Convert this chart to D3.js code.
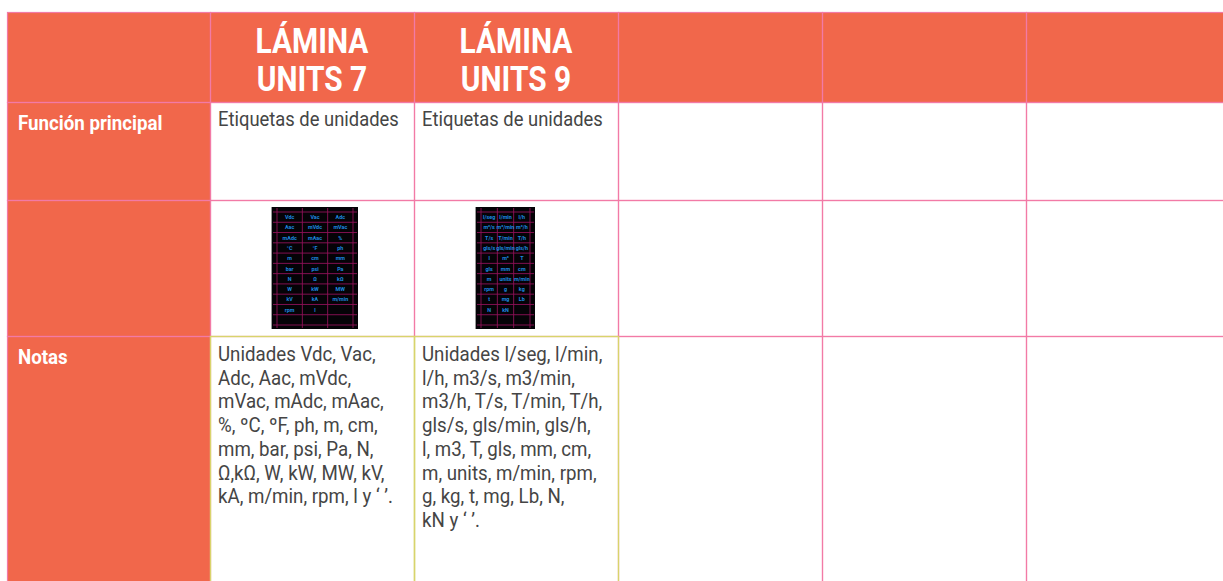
<!DOCTYPE html>
<html>
<head>
<meta charset="utf-8">
<script src="https://cdn.jsdelivr.net/npm/d3@7"></script>
<style>
  html, body { margin: 0; padding: 0; background: #ffffff; }
  svg { display: block; }
  text { font-family: Roboto, "Noto Sans", sans-serif; }
</style>
</head>
<body>
<svg id="chart" width="1223" height="581"></svg>
<script>
// ---- data ----
const columnHeaders = [["", ""], ["LÁMINA", "UNITS 7"], ["LÁMINA", "UNITS 9"], ["", ""], ["", ""], ["", ""]];
const rowLabels = ["Función principal", "", "Notas"];
const funcionPrincipal = ["Etiquetas de unidades", "Etiquetas de unidades", "", "", ""];
const notasUnits7 = [
  "Unidades Vdc, Vac,",
  "Adc, Aac, mVdc,",
  "mVac, mAdc, mAac,",
  "%, ºC, ºF, ph, m, cm,",
  "mm, bar, psi, Pa, N,",
  "Ω,kΩ, W, kW, MW, kV,",
  "kA, m/min, rpm, l y ‘ ’."
];
const notasUnits9 = [
  "Unidades l/seg, l/min,",
  "l/h, m3/s, m3/min,",
  "m3/h, T/s, T/min, T/h,",
  "gls/s, gls/min, gls/h,",
  "l, m3, T, gls, mm, cm,",
  "m, units, m/min, rpm,",
  "g, kg, t, mg, Lb, N,",
  "kN y ‘ ’."
];
const sheetUnits7 = [
  ["Vdc", "Vac", "Adc"], ["Aac", "mVdc", "mVac"], ["mAdc", "mAac", "%"], ["°C", "°F", "ph"],
  ["m", "cm", "mm"], ["bar", "psi", "Pa"], ["N", "Ω", "kΩ"], ["W", "kW", "MW"],
  ["kV", "kA", "m/min"], ["rpm", "l", ""], ["", "", ""]
];
const sheetUnits9 = [
  ["l/seg", "l/min", "l/h"], ["m³/s", "m³/min", "m³/h"], ["T/s", "T/min", "T/h"], ["gls/s", "gls/min", "gls/h"],
  ["l", "m³", "T"], ["gls", "mm", "cm"], ["m", "units", "m/min"], ["rpm", "g", "kg"],
  ["t", "mg", "Lb"], ["N", "kN", ""], ["", "", ""]
];

// ---- layout ----
const ORANGE = "#f1674b", PINK = "#f27aa6", YELLOW = "#d8d46c", TXT = "#454545";
const svg = d3.select("#chart");
const colEdges = [7, 210, 414, 618, 822, 1026, 1232];
const rowEdges = [12, 102, 200, 336, 590];
const nCols = colEdges.length - 1;

const cells = [];
for (let r = 0; r < rowEdges.length - 1; r++) {
  for (let c = 0; c < nCols; c++) {
    cells.push({ r, c, x: colEdges[c], y: rowEdges[r], w: colEdges[c + 1] - colEdges[c], h: rowEdges[r + 1] - rowEdges[r] });
  }
}
const isOrange = d => d.r === 0 || d.c === 0;

// fills
svg.append("g").selectAll("rect").data(cells).join("rect")
  .attr("x", d => d.x).attr("y", d => d.y).attr("width", d => d.w).attr("height", d => d.h)
  .attr("fill", d => isOrange(d) ? ORANGE : "#ffffff");

// pink borders
svg.append("g").selectAll("rect").data(cells.filter(d => !(d.r === 3 && (d.c === 1 || d.c === 2)))).join("rect")
  .attr("x", d => d.x + 0.5).attr("y", d => d.y + 0.5).attr("width", d => d.w).attr("height", d => d.h)
  .attr("fill", "none").attr("stroke", PINK).attr("stroke-width", 1.2);
// yellow borders on notes cells
svg.append("g").selectAll("rect").data(cells.filter(d => d.r === 3 && (d.c === 1 || d.c === 2))).join("rect")
  .attr("x", d => d.x + 0.5).attr("y", d => d.y + 0.5).attr("width", d => d.w).attr("height", d => d.h)
  .attr("fill", "none").attr("stroke", YELLOW).attr("stroke-width", 1.4);

// helper for condensed text
function condText(g, x, y, str, size, weight, fill, sx, anchor) {
  return g.append("text")
    .attr("transform", `translate(${x},${y}) scale(${sx},1)`)
    .attr("font-size", size).attr("font-weight", weight).attr("fill", fill)
    .attr("text-anchor", anchor || "start").text(str);
}

// headers (one text element per header, lines as tspans)
const hg = svg.append("g");
columnHeaders.forEach((lines, c) => {
  if (!lines.some(l => l)) return;
  const cx = (colEdges[c] + colEdges[c + 1]) / 2;
  const t = hg.append("text")
    .attr("transform", `translate(${cx},53) scale(0.83,1)`)
    .attr("font-size", 36).attr("font-weight", 700).attr("fill", "#ffffff")
    .attr("text-anchor", "middle");
  lines.forEach((ln, i) => {
    t.append("tspan").attr("x", 0).attr("y", i * 38).text(ln);
  });
});

// row labels
const lg = svg.append("g");
rowLabels.forEach((lab, i) => {
  if (lab) condText(lg, 18, rowEdges[i + 1] + 28, lab, 19.5, 700, "#ffffff", 0.96);
});

// función principal
const fg = svg.append("g");
funcionPrincipal.forEach((t, i) => {
  if (t) condText(fg, colEdges[i + 1] + 8, 126, t, 20, 400, TXT, 0.92);
});

// notas
const ng = svg.append("g");
[notasUnits7, notasUnits9].forEach((lines, i) => {
  lines.forEach((ln, j) => {
    condText(ng, colEdges[i + 1] + 8, 361 + j * 23.7, ln, 20, 400, TXT, 0.935);
  });
});

// sheet thumbnails
function drawSheet(x0, y0, w, h, rows) {
  const g = svg.append("g");
  g.append("rect").attr("x", x0 - 1).attr("y", y0).attr("width", w + 1).attr("height", h).attr("fill", "#9a9a9a");
  g.append("rect").attr("x", x0).attr("y", y0).attr("width", w).attr("height", h).attr("fill", "#050307");
  const nRows = rows.length;
  const ys = d3.scaleBand().domain(d3.range(nRows)).range([y0 + 5, y0 + h - 4]);
  const xs = d3.scaleBand().domain([0, 1, 2]).range([x0 + 5, x0 + w - 5]);
  const lines = g.append("g").attr("stroke", "#8e1258").attr("stroke-width", 0.9);
  d3.range(nRows + 1).forEach(i => {
    const y = ys.range()[0] + i * ys.step();
    lines.append("line").attr("x1", x0 + 1).attr("x2", x0 + w - 1).attr("y1", y).attr("y2", y);
  });
  [x0 + 5, x0 + 5 + xs.step(), x0 + 5 + 2 * xs.step(), x0 + w - 5].forEach(x => {
    lines.append("line").attr("x1", x).attr("x2", x).attr("y1", y0 + 1).attr("y2", y0 + h - 1);
  });
  rows.forEach((row, r) => row.forEach((t, c) => {
    if (!t) return;
    g.append("text").attr("x", xs(c) + xs.bandwidth() / 2).attr("y", ys(r) + ys.bandwidth() / 2 + 2)
      .attr("text-anchor", "middle").attr("font-size", 5.4).attr("font-weight", 700)
      .attr("fill", "#1d8ae0").text(t);
  }));
}
drawSheet(272, 207, 86, 122, sheetUnits7);
drawSheet(476, 207, 59, 122, sheetUnits9);
</script>
</body>
</html>
